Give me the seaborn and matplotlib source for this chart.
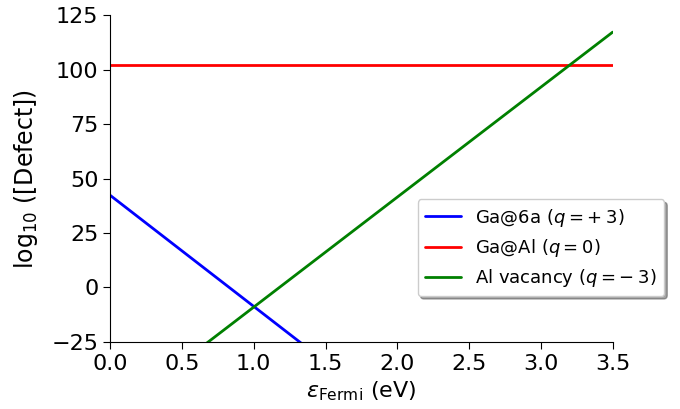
import matplotlib
matplotlib.use("Agg")
import matplotlib.pyplot as plt
import seaborn as sns
import pandas as pd

sns.set_style("ticks")
plt.rcParams['font.family'] = ['DejaVu Sans']
plt.rcParams['mathtext.fontset'] = 'dejavusans'
for k in ['text.color', 'axes.labelcolor', 'xtick.color', 'ytick.color', 'axes.edgecolor']:
    plt.rcParams[k] = 'black'

fermi = [0.0, 3.5]
ga6a = [42.3, -136.2]
gaal = [102.0, 102.0]
alvac = [-59.5, 117.2]
labels = [r"Ga@6a ($q = +\:3$)", r"Ga@Al ($q = 0$)", r"Al vacancy ($q = -\:3$)"]
colors = ["blue", "red", "green"]

rows = []
for lab, ys in zip(labels, [ga6a, gaal, alvac]):
    for x, y in zip(fermi, ys):
        rows.append({"x": x, "y": y, "defect": lab})
df = pd.DataFrame(rows)

fig = plt.figure(figsize=(6.8, 4.09), dpi=100)
ax = fig.add_axes([0.162, 0.164, 0.739, 0.799])
sns.lineplot(data=df, x="x", y="y", hue="defect", palette=colors,
             hue_order=labels, linewidth=2, ax=ax)
ax.set_xlim(0, 3.5)
ax.set_ylim(-25, 125)
ax.set_xticks([0, 0.5, 1.0, 1.5, 2.0, 2.5, 3.0, 3.5])
ax.set_yticks([-25, 0, 25, 50, 75, 100, 125])
ax.tick_params(labelsize=16, direction='out', length=5, colors='black')
ax.set_xlabel(r"$\varepsilon_{\mathrm{Fermi}}$ (eV)", fontsize=16)
ax.set_ylabel(r"log$_{10}$ ([Defect])", fontsize=17, labelpad=8)
sns.despine(ax=ax)
ax.legend(title=None, fontsize=13, loc='lower right', bbox_to_anchor=(1.103, 0.14),
          borderaxespad=0, frameon=True, shadow=True, fancybox=True, handlelength=2.0,
          labelspacing=0.45)
fig.savefig("out.png", dpi=100)
